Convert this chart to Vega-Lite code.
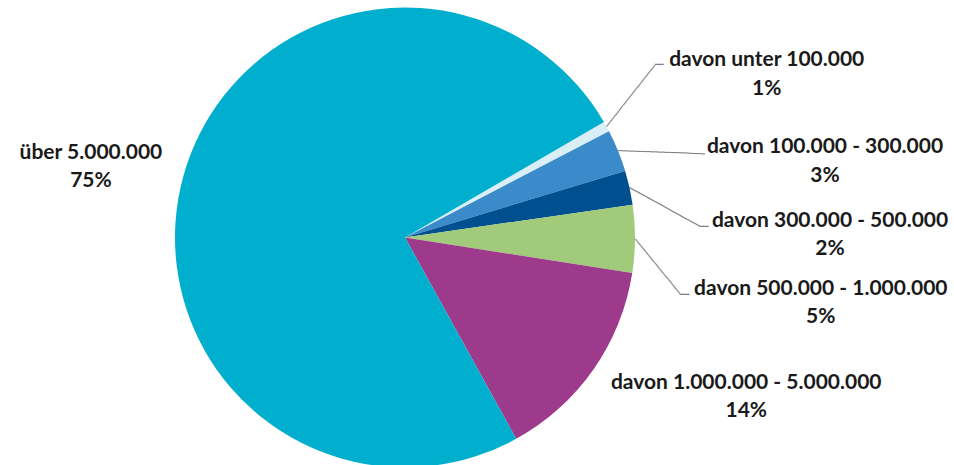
{
  "$schema": "https://vega.github.io/schema/vega-lite/v6.json",
  "width": 810,
  "height": 475,
  "padding": 0,
  "autosize": {"type": "pad"},
  "background": "white",
  "config": {"view": {"stroke": null}},
  "data": {"values": [
    {"category": "davon unter 100.000", "pct": "1%", "share": 0.73, "rank": 1},
    {"category": "davon 100.000 - 300.000", "pct": "3%", "share": 2.97, "rank": 2},
    {"category": "davon 300.000 - 500.000", "pct": "2%", "share": 2.39, "rank": 3},
    {"category": "davon 500.000 - 1.000.000", "pct": "5%", "share": 4.75, "rank": 4},
    {"category": "davon 1.000.000 - 5.000.000", "pct": "14%", "share": 14.5, "rank": 5},
    {"category": "über 5.000.000", "pct": "75%", "share": 74.66, "rank": 6}
  ]},
  "transform": [
    {"stack": "share", "groupby": [], "sort": [{"field": "rank", "order": "ascending"}], "as": ["s0", "s1"]},
    {"calculate": "(datum.s0 + datum.s1) / 2", "as": "mid"},
    {"calculate": "[datum.category, datum.pct]", "as": "lines"}
  ],
  "layer": [
    {
      "mark": {"type": "arc", "outerRadius": 230},
      "encoding": {
        "theta": {"field": "s0", "type": "quantitative", "stack": null, "scale": {"domain": [0, 100], "range": [1.0448, 7.328]}},
        "theta2": {"field": "s1"},
        "color": {"field": "category", "type": "nominal", "legend": null,
          "scale": {"domain": ["davon unter 100.000", "davon 100.000 - 300.000", "davon 300.000 - 500.000", "davon 500.000 - 1.000.000", "davon 1.000.000 - 5.000.000", "über 5.000.000"],
                    "range": ["#DAEEF5", "#3B8BCA", "#00508F", "#A1CB7B", "#9D3A8C", "#00AECD"]}}
      }
    },
    {
      "transform": [{"filter": "datum.rank == 1"}],
      "mark": {"type": "text", "radius": 230, "angle": 308.2, "align": "left", "baseline": "middle", "font": "DejaVu Sans Mono", "fontSize": 11.84, "color": "#808080", "text": "───────────"},
      "encoding": {"theta": {"field": "mid", "type": "quantitative", "stack": null}}
    },
    {
      "transform": [{"filter": "datum.rank == 1"}],
      "mark": {"type": "text", "radius": 230, "dx": 48.5, "dy": -61.6, "align": "left", "baseline": "middle", "font": "DejaVu Sans Mono", "fontSize": 14, "color": "#808080", "text": "─"},
      "encoding": {"theta": {"field": "mid", "type": "quantitative", "stack": null}}
    },
    {
      "transform": [{"filter": "datum.rank == 2"}],
      "mark": {"type": "text", "radius": 230, "angle": 2.1, "align": "left", "baseline": "middle", "font": "DejaVu Sans Mono", "fontSize": 12.06, "color": "#808080", "text": "────────────"},
      "encoding": {"theta": {"field": "mid", "type": "quantitative", "stack": null}}
    },
    {
      "transform": [{"filter": "datum.rank == 3"}],
      "mark": {"type": "text", "radius": 230, "angle": 28.95, "align": "left", "baseline": "middle", "font": "DejaVu Sans Mono", "fontSize": 12.17, "color": "#808080", "text": "───────────"},
      "encoding": {"theta": {"field": "mid", "type": "quantitative", "stack": null}}
    },
    {
      "transform": [{"filter": "datum.rank == 3"}],
      "mark": {"type": "text", "radius": 230, "dx": 70.5, "dy": 39, "align": "left", "baseline": "middle", "font": "DejaVu Sans Mono", "fontSize": 14, "color": "#808080", "text": "─"},
      "encoding": {"theta": {"field": "mid", "type": "quantitative", "stack": null}}
    },
    {
      "transform": [{"filter": "datum.rank == 4"}],
      "mark": {"type": "text", "radius": 230, "angle": 50.8, "align": "left", "baseline": "middle", "font": "DejaVu Sans Mono", "fontSize": 12.03, "color": "#808080", "text": "──────────"},
      "encoding": {"theta": {"field": "mid", "type": "quantitative", "stack": null}}
    },
    {
      "transform": [{"filter": "datum.rank == 4"}],
      "mark": {"type": "text", "radius": 230, "dx": 45.7, "dy": 56.1, "align": "left", "baseline": "middle", "font": "DejaVu Sans Mono", "fontSize": 14, "color": "#808080", "text": "─"},
      "encoding": {"theta": {"field": "mid", "type": "quantitative", "stack": null}}
    },
    {
      "transform": [{"filter": "datum.rank == 1"}],
      "mark": {"type": "text", "radius": 230, "dx": 160.2, "dy": -60.6, "align": "center", "baseline": "alphabetic", "font": "Lato", "fontWeight": "bold", "fontSize": 21, "lineHeight": 28.5, "color": "#1a1a1a"},
      "encoding": {"theta": {"field": "mid", "type": "quantitative", "stack": null}, "text": {"field": "lines", "type": "nominal"}}
    },
    {
      "transform": [{"filter": "datum.rank == 2"}],
      "mark": {"type": "text", "radius": 230, "dx": 207, "dy": 2.5, "align": "center", "baseline": "alphabetic", "font": "Lato", "fontWeight": "bold", "fontSize": 21, "lineHeight": 28.5, "color": "#1a1a1a"},
      "encoding": {"theta": {"field": "mid", "type": "quantitative", "stack": null}, "text": {"field": "lines", "type": "nominal"}}
    },
    {
      "transform": [{"filter": "datum.rank == 3"}],
      "mark": {"type": "text", "radius": 230, "dx": 200.5, "dy": 39, "align": "center", "baseline": "alphabetic", "font": "Lato", "fontWeight": "bold", "fontSize": 21, "lineHeight": 28.5, "color": "#1a1a1a"},
      "encoding": {"theta": {"field": "mid", "type": "quantitative", "stack": null}, "text": {"field": "lines", "type": "nominal"}}
    },
    {
      "transform": [{"filter": "datum.rank == 4"}],
      "mark": {"type": "text", "radius": 230, "dx": 185.8, "dy": 56.1, "align": "center", "baseline": "alphabetic", "font": "Lato", "fontWeight": "bold", "fontSize": 21, "lineHeight": 28.5, "color": "#1a1a1a"},
      "encoding": {"theta": {"field": "mid", "type": "quantitative", "stack": null}, "text": {"field": "lines", "type": "nominal"}}
    },
    {
      "transform": [{"filter": "datum.rank == 5"}],
      "mark": {"type": "text", "radius": 230, "dx": 152.8, "dy": 19.6, "align": "center", "baseline": "alphabetic", "font": "Lato", "fontWeight": "bold", "fontSize": 21, "lineHeight": 28.5, "color": "#1a1a1a"},
      "encoding": {"theta": {"field": "mid", "type": "quantitative", "stack": null}, "text": {"field": "lines", "type": "nominal"}}
    },
    {
      "transform": [{"filter": "datum.rank == 6"}],
      "mark": {"type": "text", "radius": 230, "dx": -92.4, "dy": -17.4, "align": "center", "baseline": "alphabetic", "font": "Lato", "fontWeight": "bold", "fontSize": 21, "lineHeight": 28.5, "color": "#1a1a1a"},
      "encoding": {"theta": {"field": "mid", "type": "quantitative", "stack": null}, "text": {"field": "lines", "type": "nominal"}}
    }
  ]
}
